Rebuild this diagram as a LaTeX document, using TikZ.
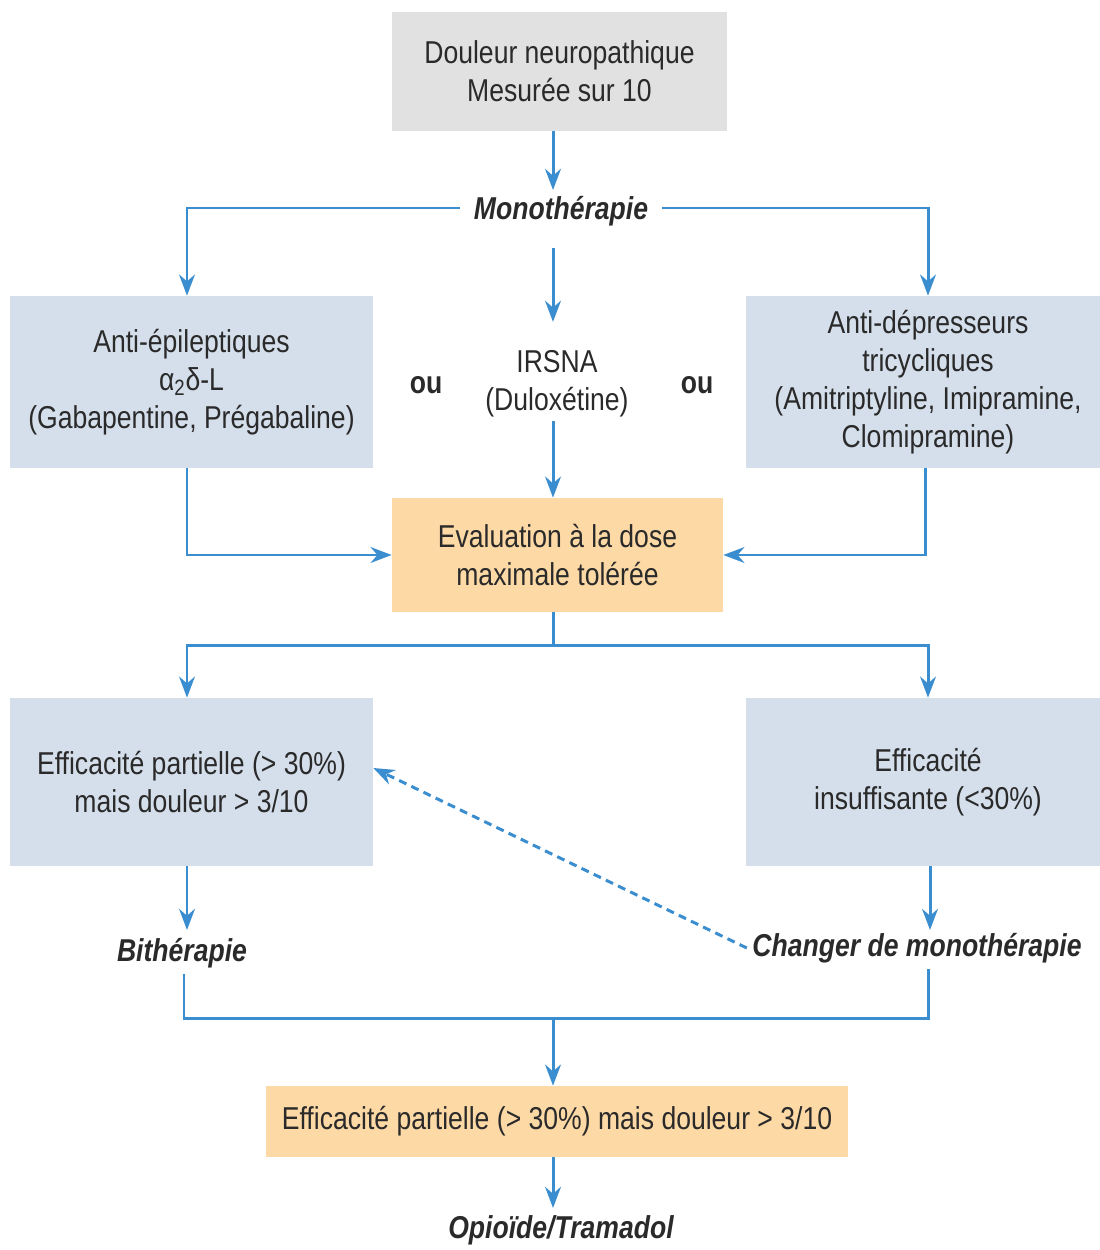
\documentclass[tikz,border=0pt]{standalone}
\usepackage{fontspec}
\setmainfont{Liberation Sans}[FakeStretch=0.84]
\usetikzlibrary{arrows.meta,calc}
\definecolor{lineblue}{HTML}{3A8ED0}
\definecolor{boxgray}{HTML}{E1E1E1}
\definecolor{boxblue}{HTML}{D5DFEB}
\definecolor{boxorange}{HTML}{FDD9A6}
\definecolor{txt}{HTML}{2A2A2A}
\begin{document}
\begin{tikzpicture}[x=0.02cm,y=-0.02cm,
  every node/.style={text=txt,font=\fontsize{18}{21.6}\selectfont},
  box/.style={inner sep=0pt,align=center,anchor=center},
  lbl/.style={font=\fontsize{18}{21.6}\selectfont\bfseries\itshape,inner sep=3pt},
  conn/.style={draw=lineblue,line width=1.7pt},
  arr/.style={conn,-{Stealth[length=12pt,width=9pt]}},
  dasharr/.style={arr,dash pattern=on 0.16cm off 0.11cm}]
\useasboundingbox (0,0) rectangle (1099,1250);
% boxes
\node[box,fill=boxgray,minimum width=6.7cm,minimum height=2.38cm] (top) at (559.5,71.5) {Douleur neuropathique\\Mesurée sur 10};
\node[box,fill=boxblue,minimum width=7.26cm,minimum height=3.44cm] (left1) at (191.5,382) {Anti-épileptiques\\α\textsubscript{2}δ-L\\(Gabapentine, Prégabaline)};
\node[box,fill=boxblue,minimum width=7.28cm,minimum height=3.44cm] (right1) at (928,382) {Anti-dépresseurs\\tricycliques\\(Amitriptyline, Imipramine,\\Clomipramine)};
\node[box,fill=boxorange,minimum width=6.62cm,minimum height=2.28cm] (orange1) at (557.5,555) {Evaluation à la dose\\maximale tolérée};
\node[box,fill=boxblue,minimum width=7.26cm,minimum height=3.36cm] (left2) at (191.5,782) {Efficacité partielle (> 30\%)\\mais douleur > 3/10};
\node[box,fill=boxblue,minimum width=7.28cm,minimum height=3.36cm] (right2) at (928,782) {Efficacité\\insuffisante (<30\%)};
\node[box,fill=boxorange,minimum width=11.64cm,minimum height=1.42cm] (orange2) at (557,1121.5) {Efficacité partielle (> 30\%) mais douleur > 3/10};
% labels
\node[lbl,inner xsep=8pt] (mono) at (561,211) {Monothérapie};
\node[box,inner sep=2pt] (irsna) at (557,384) {IRSNA\\(Duloxétine)};
\node[font=\fontsize{18}{21.6}\selectfont\bfseries] (ou1) at (426,385) {ou};
\node[font=\fontsize{18}{21.6}\selectfont\bfseries] (ou2) at (697,385) {ou};
\node[lbl] (bith) at (182,953) {Bithérapie};
\node[lbl] (changer) at (917,948) {Changer de monothérapie};
\node[lbl] (opio) at (561,1230) {Opioïde/Tramadol};
% connectors
\draw[arr] (top.south -| 553,0) -- (553,190);
\draw[arr] ([yshift=0.06cm]mono.west) -| (left1.north -| 187,0);
\draw[arr] ([yshift=0.06cm]mono.east) -| (right1.north -| 928,0);
\draw[arr] (553,248) -- ([yshift=0.5cm]irsna.north -| 553,0);
\draw[arr] (irsna.south -| 553,0) -- (orange1.north -| 553,0);
\draw[arr] (left1.south -| 187,0) |- (orange1.west);
\draw[arr] (right1.south -| 925,0) |- (orange1.east);
\coordinate (split) at (553,645);
\draw[conn] (orange1.south -| 553,0) -- (split);
\draw[arr] (split) -| (left2.north -| 187,0);
\draw[arr] (split) -| (right2.north -| 928,0);
\draw[arr] (left2.south -| 187,0) -- (187,930);
\draw[arr] (right2.south -| 930,0) -- (930,930);
\draw[dasharr] (changer.west) -- ([yshift=0.28cm]left2.east);
\coordinate (join) at (553,1018);
\draw[conn] (bith.south -| 184,0) |- (join) -| (changer.south -| 928,0);
\draw[arr] (join) -- (orange2.north -| 553,0);
\draw[arr] (orange2.south -| 553,0) -- (553,1208);
\end{tikzpicture}
\end{document}
